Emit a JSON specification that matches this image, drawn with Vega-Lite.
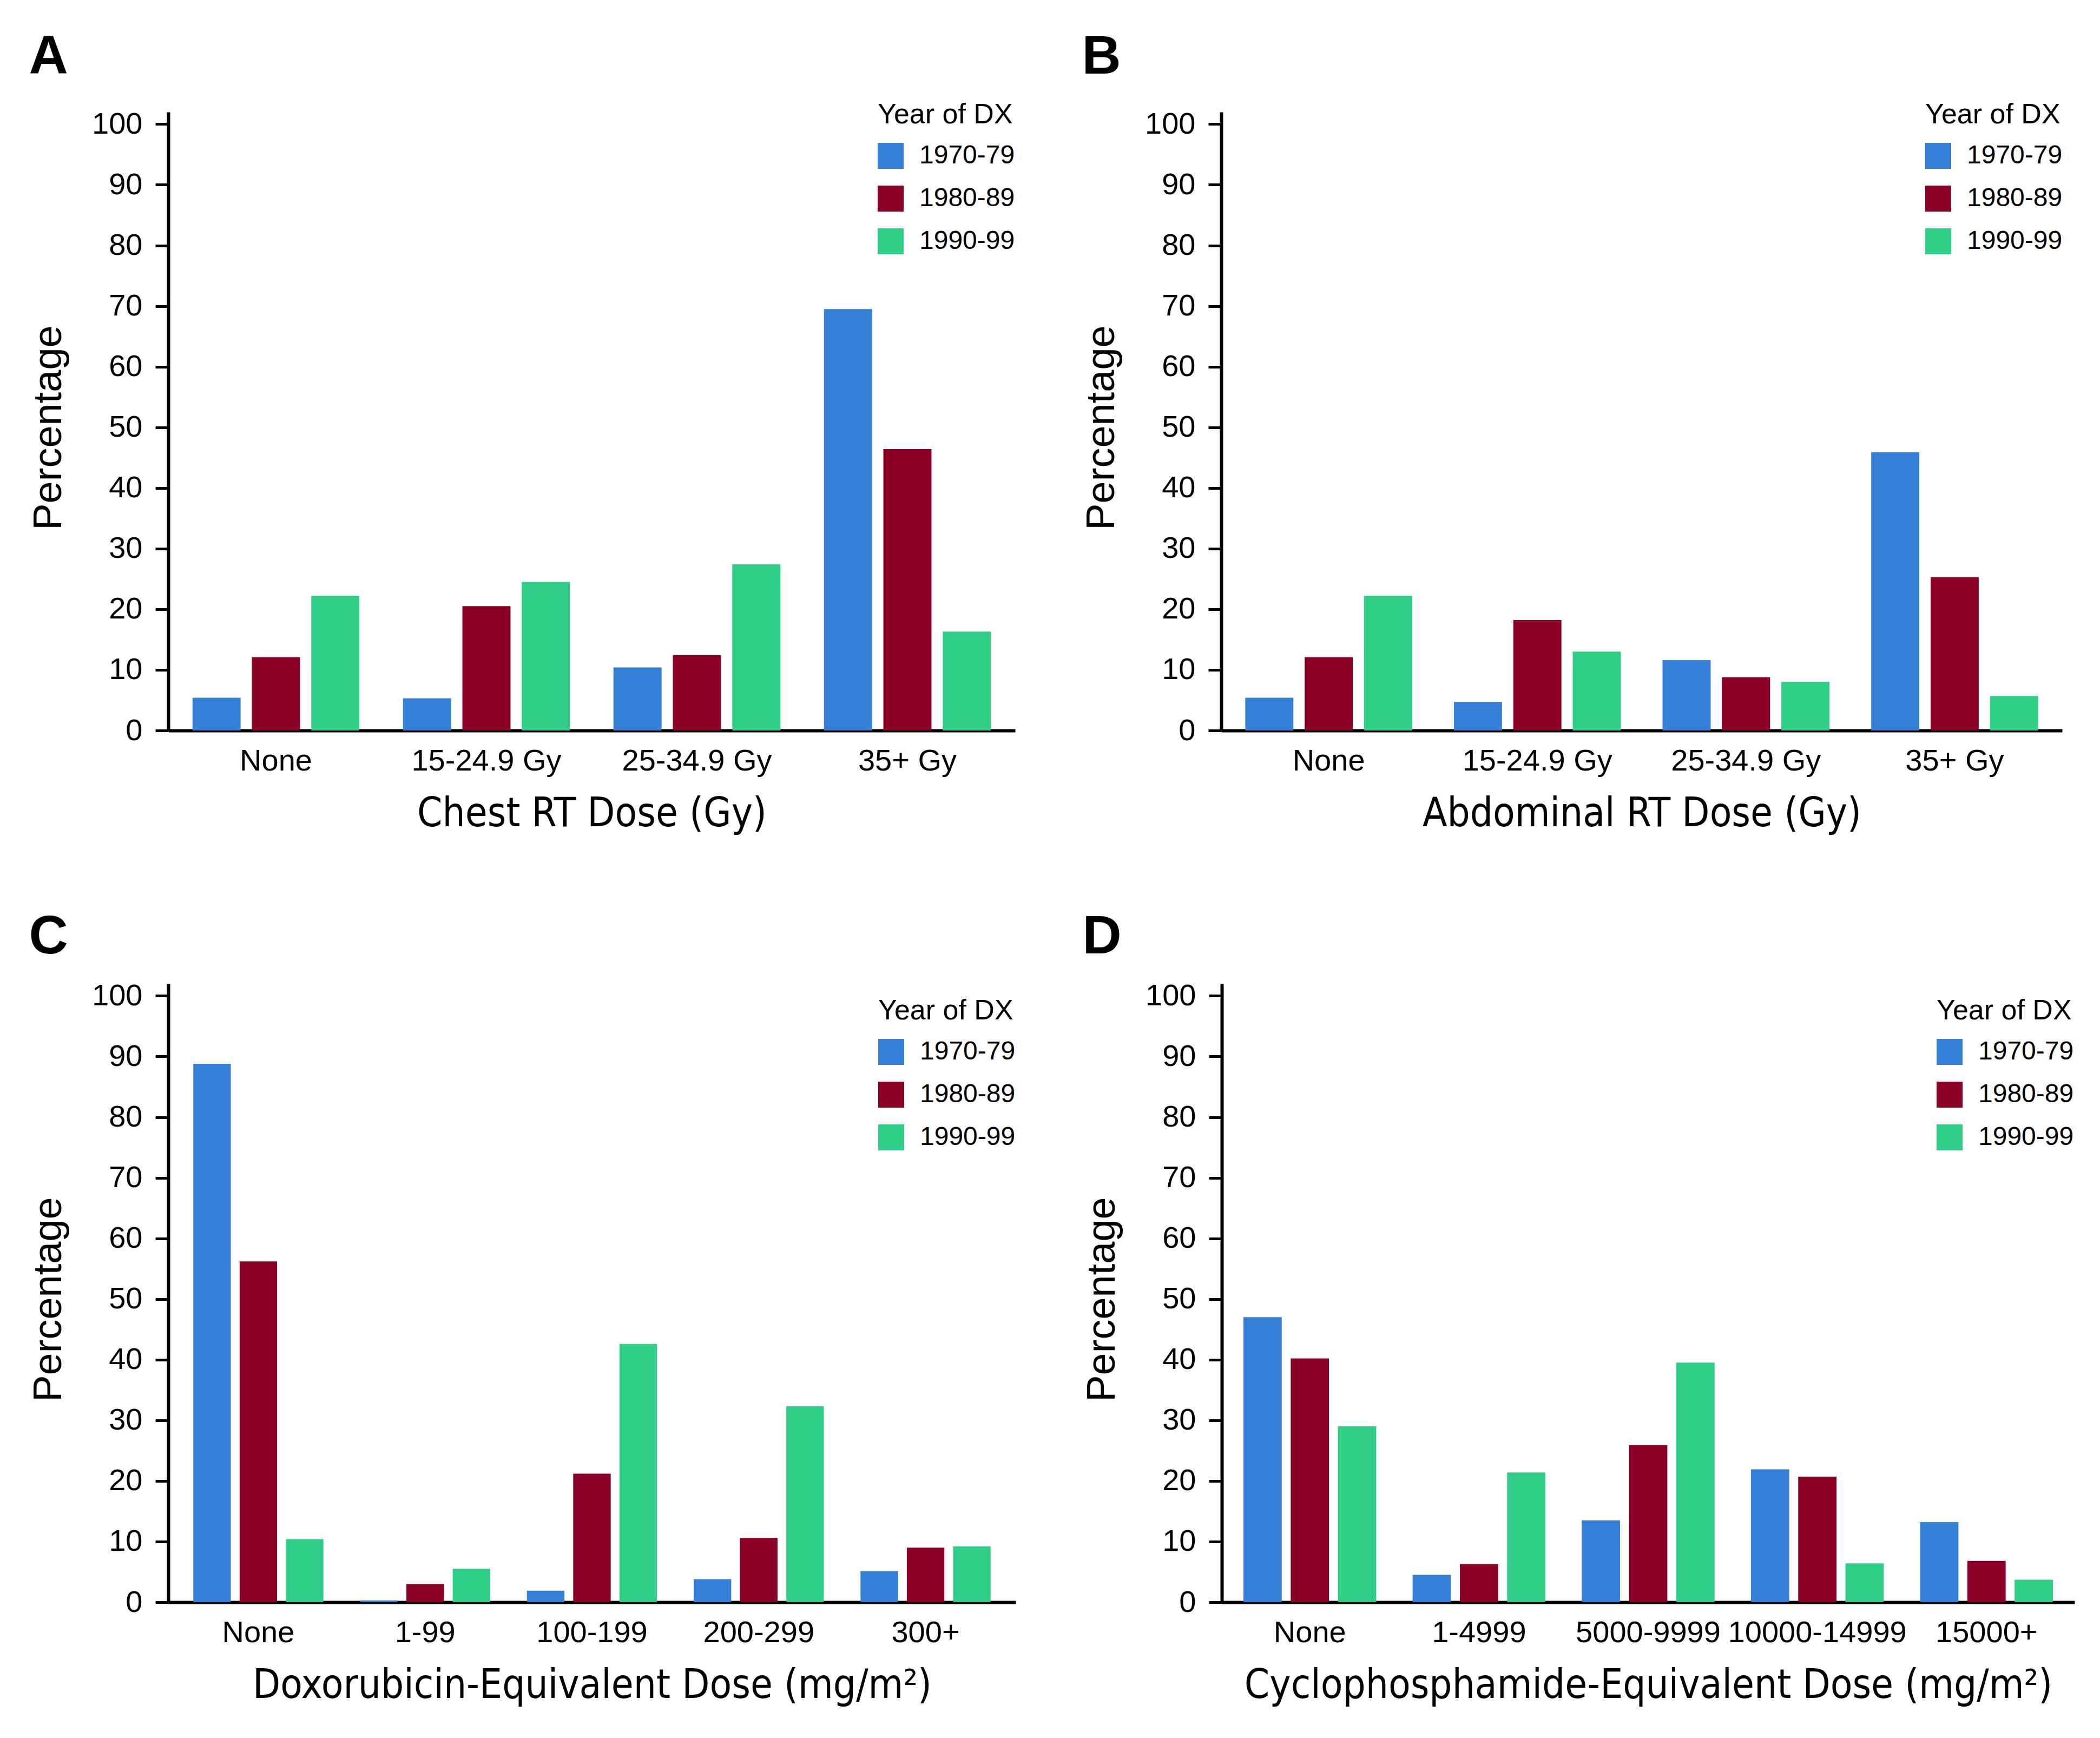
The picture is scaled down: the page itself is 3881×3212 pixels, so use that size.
{
  "$schema": "https://vega.github.io/schema/vega-lite/v6.json",
  "background": "white",
  "padding": {"left": 53, "top": 56, "right": 49, "bottom": 40},
  "config": {
    "view": {"stroke": null},
    "font": "Liberation Sans",
    "axis": {
      "grid": false,
      "domainColor": "black",
      "domainWidth": 6,
      "tickColor": "black",
      "tickWidth": 5,
      "tickSize": 24,
      "labelFont": "Liberation Sans",
      "labelFontSize": 56,
      "labelColor": "black",
      "labelLimit": 0,
      "titleLimit": 0,
      "titleColor": "black",
      "titleFontWeight": "normal"
    },
    "axisX": {
      "ticks": false,
      "labelAngle": 0,
      "labelPadding": 29,
      "labelOverlap": false,
      "labelBound": false,
      "titleFont": "DejaVu Sans Condensed, Roboto, sans-serif",
      "titleFontSize": 74,
      "titlePadding": 34
    },
    "axisY": {
      "labelPadding": 24,
      "titleFont": "Liberation Sans",
      "titleFontSize": 74,
      "titlePadding": 41,
      "titleY": 583
    },
    "legend": {
      "titleFont": "Liberation Sans",
      "titleFontSize": 52,
      "titleFontWeight": "normal",
      "titleColor": "black",
      "titlePadding": 25,
      "titleLimit": 0,
      "labelLimit": 0,
      "labelFont": "Liberation Sans",
      "labelFontSize": 48,
      "labelColor": "black",
      "labelOffset": 29,
      "symbolType": "square",
      "symbolSize": 2304,
      "symbolStrokeWidth": 0,
      "symbolOpacity": 1,
      "rowPadding": 31
    },
    "title": {
      "font": "Liberation Sans",
      "fontSize": 100,
      "fontWeight": "bold",
      "color": "black",
      "anchor": "start",
      "frame": "bounds"
    }
  },
  "spacing": 141,
  "resolve": {"scale": {"x": "independent", "xOffset": "independent", "y": "independent", "color": "independent"}, "axis": {"x": "independent", "y": "independent"}, "legend": {"color": "independent"}},
  "vconcat": [
    {
      "spacing": 123,
      "resolve": {"scale": {"x": "independent", "xOffset": "independent", "y": "independent", "color": "independent"}, "axis": {"x": "independent", "y": "independent"}, "legend": {"color": "independent"}},
      "hconcat": [
        {
          "title": {"text": "A", "offset": 30},
          "width": 1565,
          "height": 1143,
          "data": {"values": [
            {"dose": "None", "year": "1970-79", "pct": 5.4},
            {"dose": "None", "year": "1980-89", "pct": 12.1},
            {"dose": "None", "year": "1990-99", "pct": 22.2},
            {"dose": "15-24.9 Gy", "year": "1970-79", "pct": 5.3},
            {"dose": "15-24.9 Gy", "year": "1980-89", "pct": 20.5},
            {"dose": "15-24.9 Gy", "year": "1990-99", "pct": 24.5},
            {"dose": "25-34.9 Gy", "year": "1970-79", "pct": 10.4},
            {"dose": "25-34.9 Gy", "year": "1980-89", "pct": 12.4},
            {"dose": "25-34.9 Gy", "year": "1990-99", "pct": 27.4},
            {"dose": "35+ Gy", "year": "1970-79", "pct": 69.5},
            {"dose": "35+ Gy", "year": "1980-89", "pct": 46.4},
            {"dose": "35+ Gy", "year": "1990-99", "pct": 16.3}
          ]},
          "mark": {"type": "bar"},
          "encoding": {
            "x": {"field": "dose", "type": "nominal", "sort": ["None", "15-24.9 Gy", "25-34.9 Gy", "35+ Gy"],
                  "scale": {"paddingInner": 0.207, "paddingOuter": 0.115},
                  "axis": {"title": "Chest RT Dose (Gy)"}},
            "xOffset": {"field": "year", "type": "nominal", "scale": {"paddingInner": 0.19, "paddingOuter": 0}},
            "y": {"field": "pct", "type": "quantitative", "scale": {"domain": [0, 102], "nice": false},
                  "axis": {"title": "Percentage", "values": [0, 10, 20, 30, 40, 50, 60, 70, 80, 90, 100]}},
            "color": {"field": "year", "type": "nominal",
                      "scale": {"domain": ["1970-79", "1980-89", "1990-99"], "range": ["#3580d6", "#8a0026", "#2fcd85"]},
                      "legend": {"title": "Year of DX", "orient": "none", "legendX": 1311, "legendY": -20}}
          }
        },
        {
          "title": {"text": "B", "offset": 30},
          "width": 1554,
          "height": 1143,
          "data": {"values": [
            {"dose": "None", "year": "1970-79", "pct": 5.4},
            {"dose": "None", "year": "1980-89", "pct": 12.1},
            {"dose": "None", "year": "1990-99", "pct": 22.2},
            {"dose": "15-24.9 Gy", "year": "1970-79", "pct": 4.7},
            {"dose": "15-24.9 Gy", "year": "1980-89", "pct": 18.2},
            {"dose": "15-24.9 Gy", "year": "1990-99", "pct": 13.0},
            {"dose": "25-34.9 Gy", "year": "1970-79", "pct": 11.6},
            {"dose": "25-34.9 Gy", "year": "1980-89", "pct": 8.8},
            {"dose": "25-34.9 Gy", "year": "1990-99", "pct": 8.0},
            {"dose": "35+ Gy", "year": "1970-79", "pct": 45.9},
            {"dose": "35+ Gy", "year": "1980-89", "pct": 25.3},
            {"dose": "35+ Gy", "year": "1990-99", "pct": 5.7}
          ]},
          "mark": {"type": "bar"},
          "encoding": {
            "x": {"field": "dose", "type": "nominal", "sort": ["None", "15-24.9 Gy", "25-34.9 Gy", "35+ Gy"],
                  "scale": {"paddingInner": 0.2, "paddingOuter": 0.115},
                  "axis": {"title": "Abdominal RT Dose (Gy)"}},
            "xOffset": {"field": "year", "type": "nominal", "scale": {"paddingInner": 0.19, "paddingOuter": 0}},
            "y": {"field": "pct", "type": "quantitative", "scale": {"domain": [0, 102], "nice": false},
                  "axis": {"title": "Percentage", "values": [0, 10, 20, 30, 40, 50, 60, 70, 80, 90, 100]}},
            "color": {"field": "year", "type": "nominal",
                      "scale": {"domain": ["1970-79", "1980-89", "1990-99"], "range": ["#3580d6", "#8a0026", "#2fcd85"]},
                      "legend": {"title": "Year of DX", "orient": "none", "legendX": 1301, "legendY": -20}}
          }
        }
      ]
    },
    {
      "spacing": 123,
      "resolve": {"scale": {"x": "independent", "xOffset": "independent", "y": "independent", "color": "independent"}, "axis": {"x": "independent", "y": "independent"}, "legend": {"color": "independent"}},
      "hconcat": [
        {
          "title": {"text": "C", "offset": 29},
          "width": 1566,
          "height": 1143,
          "data": {"values": [
            {"dose": "None", "year": "1970-79", "pct": 88.8},
            {"dose": "None", "year": "1980-89", "pct": 56.2},
            {"dose": "None", "year": "1990-99", "pct": 10.4},
            {"dose": "1-99", "year": "1970-79", "pct": 0.3},
            {"dose": "1-99", "year": "1980-89", "pct": 3.0},
            {"dose": "1-99", "year": "1990-99", "pct": 5.5},
            {"dose": "100-199", "year": "1970-79", "pct": 1.9},
            {"dose": "100-199", "year": "1980-89", "pct": 21.2},
            {"dose": "100-199", "year": "1990-99", "pct": 42.6},
            {"dose": "200-299", "year": "1970-79", "pct": 3.8},
            {"dose": "200-299", "year": "1980-89", "pct": 10.6},
            {"dose": "200-299", "year": "1990-99", "pct": 32.3},
            {"dose": "300+", "year": "1970-79", "pct": 5.1},
            {"dose": "300+", "year": "1980-89", "pct": 9.0},
            {"dose": "300+", "year": "1990-99", "pct": 9.2}
          ]},
          "mark": {"type": "bar"},
          "encoding": {
            "x": {"field": "dose", "type": "nominal", "sort": ["None", "1-99", "100-199", "200-299", "300+"],
                  "scale": {"paddingInner": 0.22, "paddingOuter": 0.15},
                  "axis": {"title": "Doxorubicin-Equivalent Dose (mg/m²)"}},
            "xOffset": {"field": "year", "type": "nominal", "scale": {"paddingInner": 0.19, "paddingOuter": 0}},
            "y": {"field": "pct", "type": "quantitative", "scale": {"domain": [0, 102], "nice": false},
                  "axis": {"title": "Percentage", "values": [0, 10, 20, 30, 40, 50, 60, 70, 80, 90, 100]}},
            "color": {"field": "year", "type": "nominal",
                      "scale": {"domain": ["1970-79", "1980-89", "1990-99"], "range": ["#3580d6", "#8a0026", "#2fcd85"]},
                      "legend": {"title": "Year of DX", "orient": "none", "legendX": 1312, "legendY": 25}}
          }
        },
        {
          "title": {"text": "D", "offset": 29},
          "width": 1576,
          "height": 1143,
          "data": {"values": [
            {"dose": "None", "year": "1970-79", "pct": 47.0},
            {"dose": "None", "year": "1980-89", "pct": 40.2},
            {"dose": "None", "year": "1990-99", "pct": 29.0},
            {"dose": "1-4999", "year": "1970-79", "pct": 4.5},
            {"dose": "1-4999", "year": "1980-89", "pct": 6.3},
            {"dose": "1-4999", "year": "1990-99", "pct": 21.4},
            {"dose": "5000-9999", "year": "1970-79", "pct": 13.5},
            {"dose": "5000-9999", "year": "1980-89", "pct": 25.9},
            {"dose": "5000-9999", "year": "1990-99", "pct": 39.5},
            {"dose": "10000-14999", "year": "1970-79", "pct": 21.9},
            {"dose": "10000-14999", "year": "1980-89", "pct": 20.7},
            {"dose": "10000-14999", "year": "1990-99", "pct": 6.4},
            {"dose": "15000+", "year": "1970-79", "pct": 13.2},
            {"dose": "15000+", "year": "1980-89", "pct": 6.8},
            {"dose": "15000+", "year": "1990-99", "pct": 3.7}
          ]},
          "mark": {"type": "bar"},
          "encoding": {
            "x": {"field": "dose", "type": "nominal", "sort": ["None", "1-4999", "5000-9999", "10000-14999", "15000+"],
                  "scale": {"paddingInner": 0.215, "paddingOuter": 0.128},
                  "axis": {"title": "Cyclophosphamide-Equivalent Dose (mg/m²)"}},
            "xOffset": {"field": "year", "type": "nominal", "scale": {"paddingInner": 0.19, "paddingOuter": 0}},
            "y": {"field": "pct", "type": "quantitative", "scale": {"domain": [0, 102], "nice": false},
                  "axis": {"title": "Percentage", "values": [0, 10, 20, 30, 40, 50, 60, 70, 80, 90, 100]}},
            "color": {"field": "year", "type": "nominal",
                      "scale": {"domain": ["1970-79", "1980-89", "1990-99"], "range": ["#3580d6", "#8a0026", "#2fcd85"]},
                      "legend": {"title": "Year of DX", "orient": "none", "legendX": 1321, "legendY": 25}}
          }
        }
      ]
    }
  ]
}
